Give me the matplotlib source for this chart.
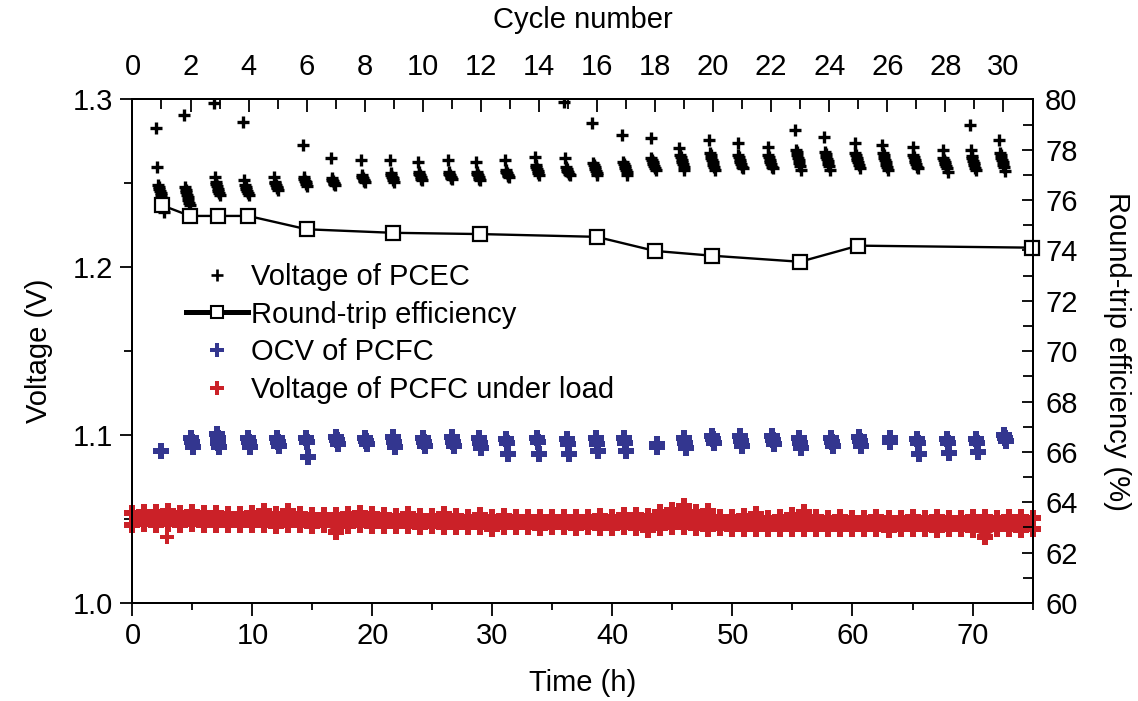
import numpy as np
import matplotlib
matplotlib.use("Agg")
import matplotlib.pyplot as plt
from matplotlib import font_manager
from matplotlib.lines import Line2D
from matplotlib.ticker import MultipleLocator, FormatStrFormatter

_names = {f.name for f in font_manager.fontManager.ttflist}
NARROW = "Liberation Sans Narrow" if "Liberation Sans Narrow" in _names else "Liberation Sans"

plt.rcParams.update({
    "font.family": ["Liberation Sans", "DejaVu Sans"],
    "font.size": 21,
    "axes.linewidth": 1.4,
})

BLUE = "#33368f"
RED = "#cb2128"

# ---- Voltage of PCEC (electrolysis), one cluster of readings per cycle ----
PCEC_STEP = 0.06  # h between readings inside a cluster
PCEC_T = [2.29, 4.54, 7.04, 9.46, 11.96, 14.38, 16.71, 19.21, 21.63, 23.96,
          26.46, 28.79, 31.21, 33.71, 36.21, 38.54, 41.04, 43.38, 45.79, 48.29,
          50.63, 53.13, 55.46, 57.88, 60.38, 62.71, 65.21, 67.71, 70.04, 72.46]
PCEC_V = [
    [1.2827, 1.2595, 1.2490, 1.2478, 1.2466, 1.2452, 1.2440, 1.2428, 1.2415, 1.2400, 1.2330],
    [1.2906, 1.2475, 1.2462, 1.2448, 1.2432, 1.2418, 1.2400, 1.2385, 1.2372],
    [1.2978, 1.2537, 1.2507, 1.2495, 1.2482, 1.2468, 1.2455, 1.2442, 1.2430],
    [1.2867, 1.2519, 1.2490, 1.2478, 1.2466, 1.2455, 1.2442, 1.2430],
    [1.2537, 1.2510, 1.2500, 1.2490, 1.2480, 1.2470, 1.2460],
    [1.2728, 1.2537, 1.2525, 1.2515, 1.2505, 1.2495, 1.2485],
    [1.2650, 1.2531, 1.2522, 1.2513, 1.2504, 1.2496, 1.2490],
    [1.2638, 1.2549, 1.2540, 1.2531, 1.2522, 1.2513, 1.2507],
    [1.2638, 1.2561, 1.2550, 1.2540, 1.2530, 1.2520, 1.2507],
    [1.2627, 1.2567, 1.2557, 1.2548, 1.2538, 1.2528, 1.2519],
    [1.2638, 1.2567, 1.2558, 1.2549, 1.2540, 1.2531, 1.2525],
    [1.2627, 1.2567, 1.2557, 1.2548, 1.2538, 1.2528, 1.2519],
    [1.2638, 1.2579, 1.2570, 1.2561, 1.2552, 1.2543, 1.2537],
    [1.2656, 1.2609, 1.2597, 1.2585, 1.2573, 1.2561, 1.2549],
    [1.2983, 1.2650, 1.2597, 1.2587, 1.2576, 1.2566, 1.2556, 1.2549],
    [1.2859, 1.2621, 1.2609, 1.2597, 1.2585, 1.2573, 1.2561, 1.2549],
    [1.2787, 1.2627, 1.2615, 1.2603, 1.2591, 1.2579, 1.2567, 1.2549],
    [1.2769, 1.2650, 1.2638, 1.2626, 1.2614, 1.2602, 1.2590, 1.2579],
    [1.2710, 1.2668, 1.2654, 1.2640, 1.2626, 1.2612, 1.2598, 1.2579],
    [1.2758, 1.2680, 1.2666, 1.2652, 1.2638, 1.2624, 1.2610, 1.2596, 1.2579],
    [1.2740, 1.2668, 1.2654, 1.2640, 1.2626, 1.2612, 1.2598, 1.2591],
    [1.2716, 1.2668, 1.2654, 1.2640, 1.2626, 1.2612, 1.2598, 1.2591],
    [1.2817, 1.2698, 1.2684, 1.2668, 1.2652, 1.2636, 1.2620, 1.2604, 1.2579],
    [1.2775, 1.2686, 1.2672, 1.2658, 1.2644, 1.2630, 1.2616, 1.2602, 1.2579],
    [1.2740, 1.2680, 1.2666, 1.2652, 1.2638, 1.2624, 1.2610, 1.2591],
    [1.2728, 1.2680, 1.2666, 1.2652, 1.2638, 1.2624, 1.2610, 1.2596, 1.2579],
    [1.2716, 1.2668, 1.2654, 1.2640, 1.2626, 1.2612, 1.2598, 1.2591],
    [1.2698, 1.2650, 1.2638, 1.2626, 1.2614, 1.2602, 1.2590, 1.2567],
    [1.2847, 1.2698, 1.2662, 1.2648, 1.2634, 1.2620, 1.2606, 1.2592, 1.2579],
    [1.2758, 1.2680, 1.2666, 1.2652, 1.2638, 1.2624, 1.2610, 1.2596, 1.2573],
]

# ---- OCV of PCFC, a few readings per cycle ----
OCV_STEP = 0.06
OCV_T = [2.38, 4.96, 7.13, 9.71, 12.13, 14.54, 17.04, 19.46, 21.79, 24.29,
         26.71, 28.96, 31.21, 33.79, 36.29, 38.71, 41.04, 43.71, 46.04, 48.38,
         50.71, 53.38, 55.63, 58.29, 60.63, 63.13, 65.46, 67.96, 70.38, 72.71]
OCV_V = [
    [1.0907],
    [1.0982, 1.0960, 1.0930],
    [1.1006, 1.0980, 1.0955, 1.0930],
    [1.0982, 1.0958, 1.0930],
    [1.0982, 1.0960, 1.0935],
    [1.0982, 1.0958, 1.0872],
    [1.0990, 1.0968, 1.0947],
    [1.0982, 1.0965, 1.0947],
    [1.0990, 1.0960, 1.0930],
    [1.0982, 1.0960, 1.0935],
    [1.0988, 1.0960, 1.0935],
    [1.0982, 1.0955, 1.0925],
    [1.0975, 1.0955, 1.0887],
    [1.0985, 1.0960, 1.0887],
    [1.0975, 1.0950, 1.0890],
    [1.0980, 1.0950, 1.0905],
    [1.0980, 1.0955, 1.0905],
    [1.0945, 1.0930],
    [1.0980, 1.0955, 1.0925],
    [1.0995, 1.0975, 1.0955],
    [1.0995, 1.0965, 1.0935],
    [1.0995, 1.0970, 1.0950],
    [1.0982, 1.0955, 1.0925],
    [1.0982, 1.0960, 1.0935],
    [1.0990, 1.0965, 1.0935],
    [1.0985, 1.0960],
    [1.0975, 1.0955, 1.0890],
    [1.0978, 1.0955, 1.0893],
    [1.0978, 1.0955, 1.0900],
    [1.1000, 1.0980, 1.0965],
]

# ---- Voltage of PCFC under load: upper / lower readings per hour ----
LOAD_T = list(range(0, 76))
LOAD_HI = [1.0535, 1.0540, 1.0545, 1.0550, 1.0535, 1.0540, 1.0538, 1.0535, 1.0532, 1.0530,
           1.0535, 1.0548, 1.0530, 1.0550, 1.0528, 1.0525, 1.0527, 1.0525, 1.0530, 1.0535,
           1.0528, 1.0524, 1.0520, 1.0528, 1.0520, 1.0520, 1.0532, 1.0518, 1.0515, 1.0525,
           1.0515, 1.0520, 1.0512, 1.0515, 1.0512, 1.0510, 1.0512, 1.0515, 1.0512, 1.0518,
           1.0510, 1.0522, 1.0525, 1.0520, 1.0545, 1.0555, 1.0575, 1.0545, 1.0550, 1.0515,
           1.0510, 1.0520, 1.0530, 1.0508, 1.0510, 1.0525, 1.0545, 1.0510, 1.0505, 1.0510,
           1.0508, 1.0505, 1.0510, 1.0505, 1.0508, 1.0510, 1.0505, 1.0512, 1.0508, 1.0505,
           1.0515, 1.0510, 1.0508, 1.0515, 1.0510, 1.0505]
LOAD_LO = [1.0465, 1.0470, 1.0462, 1.0468, 1.0465, 1.0470, 1.0462, 1.0466, 1.0465, 1.0462,
           1.0466, 1.0465, 1.0460, 1.0466, 1.0462, 1.0460, 1.0462, 1.0425, 1.0460, 1.0462,
           1.0458, 1.0460, 1.0456, 1.0460, 1.0455, 1.0458, 1.0452, 1.0455, 1.0452, 1.0455,
           1.0438, 1.0452, 1.0450, 1.0452, 1.0448, 1.0450, 1.0452, 1.0448, 1.0450, 1.0445,
           1.0448, 1.0450, 1.0446, 1.0432, 1.0448, 1.0450, 1.0452, 1.0446, 1.0440, 1.0444,
           1.0440, 1.0442, 1.0440, 1.0438, 1.0442, 1.0440, 1.0438, 1.0440, 1.0442, 1.0438,
           1.0440, 1.0438, 1.0440, 1.0437, 1.0440, 1.0438, 1.0440, 1.0436, 1.0440, 1.0438,
           1.0436, 1.0395, 1.0438, 1.0440, 1.0437, 1.0440]
LOAD_OUT_T = [2.85]
LOAD_OUT_V = [1.0395]

# ---- Round-trip efficiency ----
EFF_T = [2.43, 4.79, 7.10, 9.65, 14.52, 21.68, 28.96, 38.68, 43.54, 48.32, 55.63, 60.48, 74.93]
EFF = [75.80, 75.37, 75.37, 75.37, 74.84, 74.70, 74.65, 74.54, 73.98, 73.79, 73.55, 74.19, 74.11]

fig = plt.figure(figsize=(11.38, 7.01), dpi=100)
ax = fig.add_axes([0.1164, 0.1398, 0.9073 - 0.1164, 0.8583 - 0.1398])
ax.set_xlim(0, 75)
ax.set_ylim(1.0, 1.3)

# PCFC under load band
ax.fill_between(LOAD_T, LOAD_LO, LOAD_HI, color=RED, lw=0, zorder=2)
for vals in (LOAD_HI, LOAD_LO):
    ax.plot(LOAD_T, vals, ls="none", marker="P", ms=11.5, mew=0, color=RED,
            zorder=2, clip_on=False)
ax.plot(LOAD_OUT_T, LOAD_OUT_V, ls="none", marker="P", ms=10, mew=0, color=RED, zorder=2)

# OCV
for t0, vs in zip(OCV_T, OCV_V):
    n = len(vs)
    ts = t0 + OCV_STEP * (np.arange(n) - (n - 1) / 2)
    ax.plot(ts, vs, ls="none", marker="P", ms=11.5, mew=0, color=BLUE, zorder=3)

# PCEC voltage
for t0, vs in zip(PCEC_T, PCEC_V):
    n = len(vs)
    ts = t0 + PCEC_STEP * (np.arange(n) - (n - 1) / 2)
    ax.plot(ts, vs, ls="none", marker="+", ms=8.5, mew=2.4, color="black", zorder=3)

ax.xaxis.set_major_locator(MultipleLocator(10))
ax.xaxis.set_minor_locator(MultipleLocator(5))
ax.yaxis.set_major_locator(MultipleLocator(0.1))
ax.yaxis.set_minor_locator(MultipleLocator(0.05))
ax.yaxis.set_major_formatter(FormatStrFormatter("%.1f"))
ax.tick_params(axis="x", which="major", direction="out", length=9, width=1.3, pad=5,
               labelfontfamily=NARROW)
ax.tick_params(axis="x", which="minor", direction="out", length=5, width=1.3)
ax.tick_params(axis="y", which="major", direction="out", length=9, width=1.3, pad=5)
ax.tick_params(axis="y", which="minor", direction="out", length=6, width=1.3)
ax.set_xlabel("Time (h)", labelpad=13, fontfamily=NARROW)
ax.set_ylabel("Voltage (V)", labelpad=14)

# right axis: efficiency
ax_r = ax.twinx()
ax_r.set_ylim(60, 80)
ax_r.plot(EFF_T, EFF, color="black", lw=1.7, marker="s", ms=9.4, mfc="white",
          mec="black", mew=1.6, zorder=4, clip_on=False)
ax_r.yaxis.set_major_locator(MultipleLocator(2))
ax_r.yaxis.set_minor_locator(MultipleLocator(1))
ax_r.tick_params(axis="y", which="major", direction="in", length=8, width=1.3, pad=9)
ax_r.tick_params(axis="y", which="minor", direction="in", length=7, width=1.3)
ax_r.set_ylabel("Round-trip efficiency (%)", rotation=270, va="bottom", labelpad=18)

# top axis: cycle number
ax_t = ax.twiny()
ax_t.set_xlim(0, 31)
ax_t.xaxis.set_major_locator(MultipleLocator(2))
ax_t.xaxis.set_minor_locator(MultipleLocator(1))
ax_t.tick_params(axis="x", which="major", direction="in", length=9, width=1.3, pad=13,
                 labelfontfamily=NARROW)
ax_t.tick_params(axis="x", which="minor", direction="in", length=7, width=1.3)
ax_t.set_xlabel("Cycle number", labelpad=18, fontfamily=NARROW)

handles = [
    Line2D([], [], ls="none", marker="+", ms=8, mew=1.9, color="black"),
    Line2D([], [], color="black", lw=3.6, marker="s", ms=9, mfc="white", mec="black", mew=1.5),
    Line2D([], [], ls="none", marker="P", ms=10, mew=0, color=BLUE),
    Line2D([], [], ls="none", marker="P", ms=10, mew=0, color=RED),
]
labels = ["Voltage of PCEC", "Round-trip efficiency", "OCV of PCFC",
          "Voltage of PCFC under load"]
ax_t.legend(handles, labels, loc="upper left", bbox_to_anchor=(0.06, 0.675), frameon=False,
            handlelength=2.1, handletextpad=0.1, labelspacing=0.33, borderpad=0,
            borderaxespad=0, fontsize=21)

fig.savefig("out.png", dpi=100)
